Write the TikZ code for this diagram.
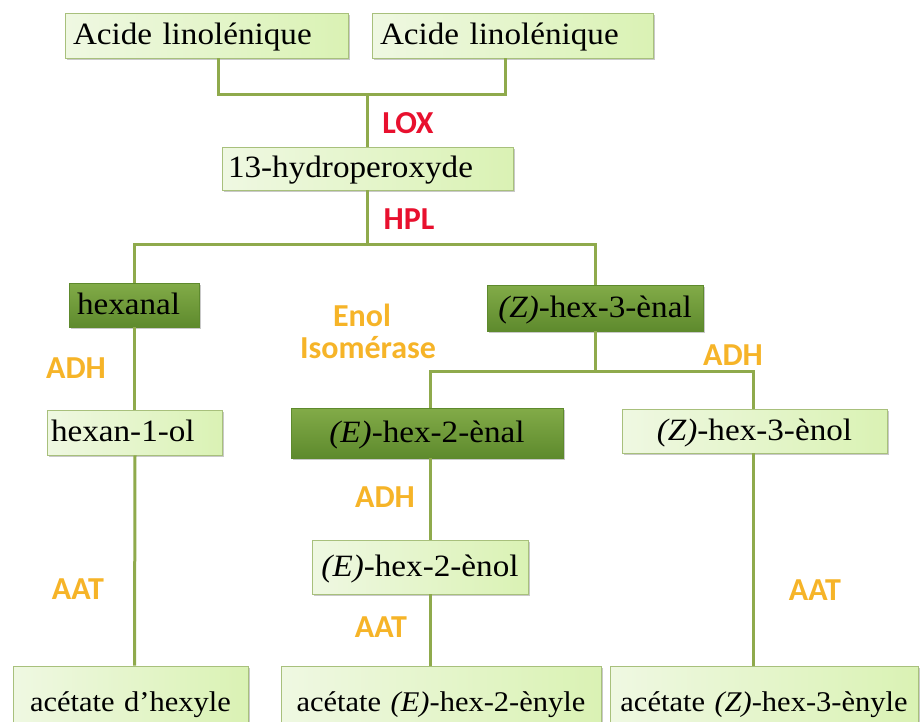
\documentclass[tikz,border=0pt]{standalone}
\usepackage{fontspec}
\setmainfont{Liberation Serif}[FakeStretch=1.07]
\newfontfamily\labfont{Carlito}
\usetikzlibrary{shadows}
\definecolor{lineg}{HTML}{8FAA4C}
\definecolor{lgA}{HTML}{EFF8E2}
\definecolor{lgB}{HTML}{DAF2B4}
\definecolor{dgA}{HTML}{82AB48}
\definecolor{dgB}{HTML}{5E8A2D}
\definecolor{bord}{HTML}{A8C07C}
\definecolor{enzred}{HTML}{E8102E}
\definecolor{enzor}{HTML}{F6B428}
\tikzset{
  basebox/.style={draw=bord, line width=0.8pt, inner ysep=0pt, inner xsep=8pt,
    text height=23pt, text depth=5pt,
    drop shadow={shadow xshift=2pt, shadow yshift=-2pt, opacity=0.35, fill=black!60},
    font=\fontsize{31}{36}\selectfont},
  lbox/.style={basebox, left color=lgA, right color=lgB},
  dbox/.style={basebox, draw=dgB, top color=dgA, bottom color=dgB},
  endbox/.style={lbox, inner xsep=0pt, align=center, minimum height=72pt,
    font=\fontsize{28.5}{33}\selectfont},
  conn/.style={draw=lineg, line width=3pt},
  redlab/.style={text=enzred, font=\labfont\bfseries\fontsize{32}{36}\selectfont},
  orlab/.style={text=enzor, font=\labfont\bfseries\fontsize{32}{36}\selectfont},
}
\begin{document}
\begin{tikzpicture}[x=1pt,y=-1pt]
\useasboundingbox (0,0) rectangle (923,721);
\clip (0,0) rectangle (923,721);
\fill[white] (0,0) rectangle (923,721);

% boxes
\node[lbox, text width=267pt, align=left, minimum height=45pt] (a1) at (206.5,35.5) {Acide linolénique};
\node[lbox, text width=265pt, align=left, minimum height=45pt] (a2) at (512.5,35.5) {Acide linolénique};
\node[lbox, text width=279pt, inner xsep=6pt, align=left, minimum height=43pt] (hp) at (367.5,168.5) {13-hydroperoxyde};
\node[dbox, text width=114pt, align=left, minimum height=44pt] (hal) at (134,305) {hexanal};
\node[dbox, minimum width=216pt, minimum height=46pt] (zal) at (595,308) {\textit{(Z)}-hex-3-ènal};
\node[lbox, text width=167pt, inner xsep=4pt, align=left, minimum height=45pt] (hol) at (134.5,432.5) {hexan-1-ol};
\node[dbox, minimum width=272pt, minimum height=50pt] (eal) at (427,433) {\textit{(E)}-hex-2-ènal};
\node[lbox, minimum width=265pt, minimum height=44pt] (zol) at (754.5,431) {\textit{(Z)}-hex-3-ènol};
\node[lbox, minimum width=216pt, minimum height=54pt] (eol) at (420,567) {\textit{(E)}-hex-2-ènol};
\node[endbox, text width=235pt] (b1) at (130.5,702) {acétate d’hexyle};
\node[endbox, text width=320pt] (b2) at (441,702) {acétate \textit{(E)}-hex-2-ènyle};
\node[endbox, text width=308pt] (b3) at (764,702) {acétate \textit{(Z)}-hex-3-ènyle};

% junctions
\coordinate (j1) at (367.5,94);
\coordinate (j2) at (367.5,244);
\coordinate (j3) at (595,371);

% connectors
\draw[conn] ([xshift=11.5pt]a1.south) |- (j1) -| ([xshift=-7.5pt]a2.south);
\draw[conn] (j1) -- (hp.north);
\draw[conn] (hp.south) -- (j2);
\draw[conn] (hal.north) |- (j2) -| (zal.north);
\draw[conn] (hal.south) -- (hol.north -| hal.south);
\draw[conn] ([xshift=0.5pt]hol.south) -- (b1.north -| hol.south);
\draw[conn] (zal.south) -- (j3);
\draw[conn] ([xshift=3pt]eal.north) |- (j3) -| ([xshift=-1.5pt]zol.north);
\draw[conn] ([xshift=3pt]eal.south) -- (eol.north -| 430,0);
\draw[conn] (eol.south -| 430,0) -- (b2.north -| 430,0);
\draw[conn] ([xshift=-1.5pt]zol.south) -- (b3.north -| 753,0);

% enzyme labels
\node[redlab] (lox) at (408,123) {LOX};
\node[redlab] (hpl) at (409,219) {HPL};
\node[orlab] (enol) at (362,315) {Enol};
\node[orlab] (iso) at (368,348) {Isomérase};
\node[orlab] (adh1) at (76,368) {ADH};
\node[orlab] (adh2) at (733,355) {ADH};
\node[orlab] (adh3) at (385,497) {ADH};
\node[orlab] (aat1) at (78,589) {AAT};
\node[orlab] (aat2) at (381,627) {AAT};
\node[orlab] (aat3) at (815,590) {AAT};
\end{tikzpicture}
\end{document}
